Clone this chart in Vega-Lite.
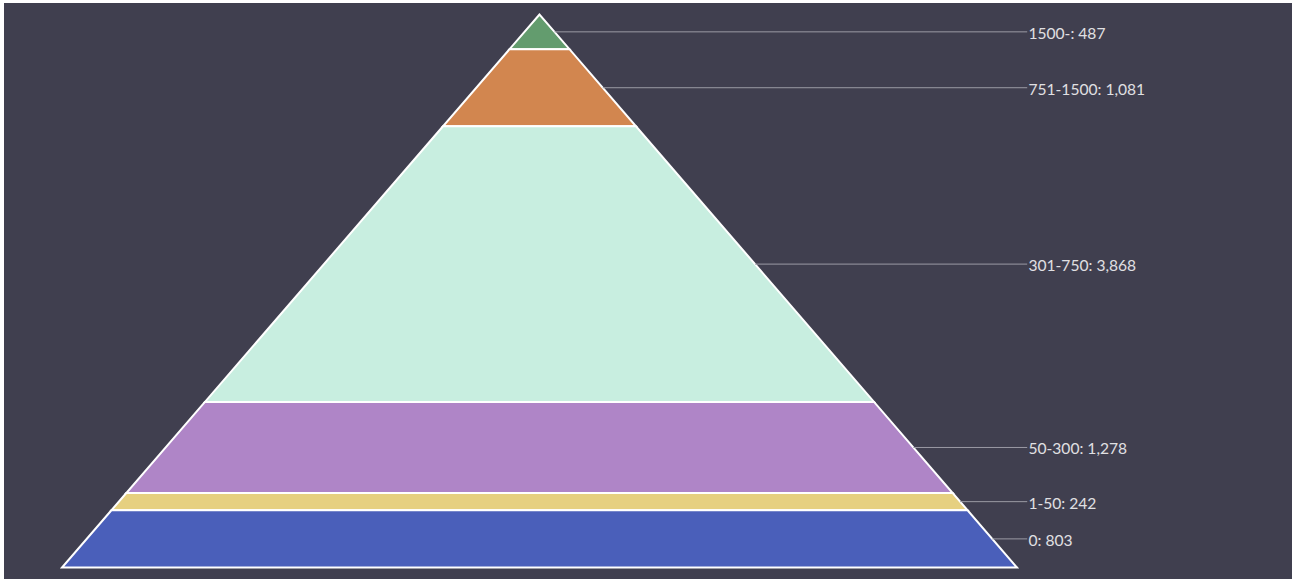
{
  "$schema": "https://vega.github.io/schema/vega-lite/v6.json",
  "width": 1288,
  "height": 576,
  "autosize": {"type": "none"},
  "padding": {"left": 4, "top": 3, "right": 12, "bottom": 0},
  "background": "#ffffff",
  "config": {"view": {"fill": "#403f4f", "stroke": null}},
  "data": {
    "values": [
      {"label": "1500-", "value": 487, "order": 1},
      {"label": "751-1500", "value": 1081, "order": 2},
      {"label": "301-750", "value": 3868, "order": 3},
      {"label": "50-300", "value": 1278, "order": 4},
      {"label": "1-50", "value": 242, "order": 5},
      {"label": "0", "value": 803, "order": 6}
    ]
  },
  "transform": [
    {"stack": "value", "groupby": [], "sort": [{"field": "order", "order": "ascending"}], "as": ["v0", "v1"]},
    {"calculate": "(datum.v0 + datum.v1) / 2", "as": "mid"},
    {"calculate": "datum.label + ': ' + format(datum.value, ',')", "as": "text"}
  ],
  "layer": [
    {
      "transform": [
        {"fold": ["v0", "v1"], "as": ["edge", "pos"]},
        {"calculate": "-datum.pos", "as": "neg"}
      ],
      "mark": {"type": "area", "orient": "horizontal", "stroke": "#ffffff", "strokeWidth": 2, "opacity": 1, "fillOpacity": 1},
      "encoding": {
        "y": {"field": "pos", "type": "quantitative", "scale": {"domain": [-161.35, 7920.3], "reverse": true, "nice": false, "zero": false}, "axis": null},
        "x": {"field": "neg", "type": "quantitative", "scale": {"domain": [-8701.4, 12227.5], "nice": false, "zero": false}, "axis": null},
        "x2": {"field": "pos"},
        "color": {
          "field": "label",
          "type": "nominal",
          "scale": {
            "domain": ["1500-", "751-1500", "301-750", "50-300", "1-50", "0"],
            "range": ["#639c6e", "#d2864f", "#c8eee0", "#af85c7", "#e6d080", "#4a5fba"]
          },
          "legend": null
        }
      }
    },
    {
      "mark": {"type": "rule", "color": "#9a9aa4", "strokeWidth": 1},
      "encoding": {
        "y": {"field": "mid", "type": "quantitative", "scale": {"domain": [-161.35, 7920.3], "reverse": true, "nice": false, "zero": false}, "axis": null},
        "x": {"field": "mid", "type": "quantitative", "scale": {"domain": [-8701.4, 12227.5], "nice": false, "zero": false}, "axis": null},
        "x2": {"datum": 7925}
      }
    },
    {
      "mark": {"type": "text", "align": "left", "baseline": "middle", "dy": 2, "font": "Lato", "fontSize": 15.6, "color": "#e0e0e3"},
      "encoding": {
        "y": {"field": "mid", "type": "quantitative", "scale": {"domain": [-161.35, 7920.3], "reverse": true, "nice": false, "zero": false}, "axis": null},
        "x": {"datum": 7945, "type": "quantitative", "scale": {"domain": [-8701.4, 12227.5], "nice": false, "zero": false}, "axis": null},
        "text": {"field": "text"}
      }
    }
  ]
}
